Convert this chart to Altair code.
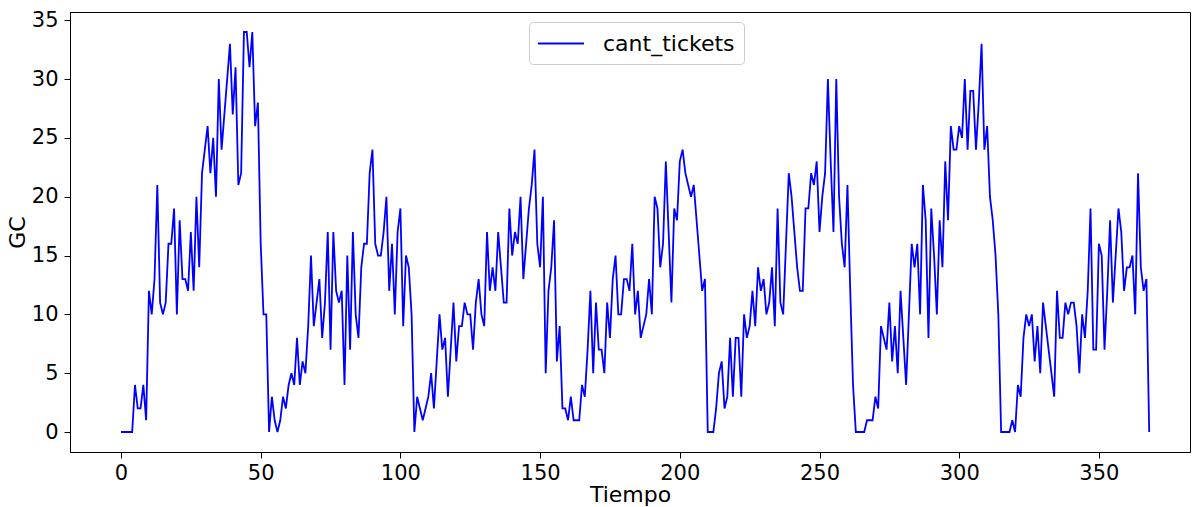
import altair as alt
import pandas as pd

cant_tickets = [
    0, 0, 0, 0, 0, 4, 2, 2, 4, 1,
    12, 10, 13, 21, 11, 10, 11, 16, 16, 19,
    10, 18, 13, 13, 12, 17, 12, 20, 14, 22,
    24, 26, 22, 25, 20, 30, 24, 27, 30, 33, 27,
    31, 21, 22, 34, 34, 31, 34, 26, 28, 16,
    10, 10, 0, 3, 1, 0, 1, 3, 2, 4,
    5, 4, 8, 4, 6, 5, 9, 15, 9, 11,
    13, 8, 11, 17, 7, 17, 12, 11, 12, 4,
    15, 7, 17, 10, 8, 14, 16, 16, 22, 24,
    16, 15, 15, 17, 20, 12, 16, 10, 17, 19,
    9, 15, 14, 10, 0, 3, 2, 1, 2, 3,
    5, 2, 6, 10, 7, 8, 3, 7, 11, 6,
    9, 9, 11, 10, 10, 7, 11, 13, 10, 9,
    17, 12, 14, 12, 17, 14, 11, 11, 19, 15,
    17, 16, 20, 13, 16, 19, 21, 24, 16, 14, 20,
    5, 12, 14, 18, 6, 9, 2, 2, 1, 3,
    1, 1, 1, 4, 3, 7, 12, 5, 11, 7,
    7, 5, 11, 8, 13, 15, 10, 10, 13, 13,
    12, 16, 10, 12, 8, 9, 10, 13, 10, 20,
    19, 14, 16, 23, 17, 11, 19, 18, 23, 24,
    22, 21, 20, 21, 18, 15, 12, 13, 0, 0,
    0, 2, 5, 6, 2, 3, 8, 3, 8, 8,
    3, 10, 8, 9, 12, 9, 14, 12, 13, 10,
    11, 14, 9, 19, 11, 10, 16, 22, 20, 17, 14,
    12, 12, 19, 19, 22, 21, 23, 17, 20, 22,
    30, 23, 17, 30, 20, 16, 14, 21, 12, 4,
    0, 0, 0, 0, 1, 1, 1, 3, 2, 9,
    8, 7, 11, 6, 9, 5, 12, 8, 4, 10,
    16, 14, 16, 10, 21, 18, 8, 19, 15, 10,
    18, 14, 23, 18, 26, 24, 24, 26, 25, 30,
    24, 29, 29, 24, 28, 33, 24, 26, 20, 18,
    15, 10, 0, 0, 0, 0, 1, 0, 4, 3,
    8, 10, 9, 10, 6, 9, 5, 11, 9, 7, 5,
    3, 12, 8, 8, 11, 10, 11, 11, 9, 5,
    10, 8, 12, 19, 7, 7, 16, 15, 7, 12,
    18, 11, 15, 19, 17, 12, 14, 14, 15, 10,
    22, 14, 12, 13, 0,
]
x_ticks = [0, 50, 100, 150, 200, 250, 300, 350]
y_ticks = [0, 5, 10, 15, 20, 25, 30, 35]
series_name = "cant_tickets"

df = pd.DataFrame({
    "Tiempo": list(range(len(cant_tickets))),
    "GC": cant_tickets,
    "serie": [series_name] * len(cant_tickets),
})

FONT = "DejaVu Sans"

chart = alt.Chart(df).mark_line(strokeWidth=1.8, clip=True).encode(
    x=alt.X("Tiempo:Q",
            scale=alt.Scale(domain=[-18.25, 382.6], nice=False, zero=False),
            axis=alt.Axis(values=x_ticks, title="Tiempo", grid=False,
                          labelPadding=4, titlePadding=1, tickSize=6)),
    y=alt.Y("GC:Q",
            scale=alt.Scale(domain=[-1.7, 35.7], nice=False, zero=False),
            axis=alt.Axis(values=y_ticks, title="GC", grid=False,
                          labelPadding=6, titlePadding=2, tickSize=6)),
    color=alt.Color("serie:N",
                    scale=alt.Scale(domain=[series_name], range=["#0000ff"]),
                    legend=alt.Legend(title=None, orient="none",
                                      legendX=459, legendY=10,
                                      symbolType="M-1.087,0L2.913,0", symbolSize=529,
                                      symbolStrokeWidth=1.8,
                                      labelFontSize=22, labelFont=FONT,
                                      labelColor="black", labelOffset=40,
                                      padding=9, cornerRadius=4,
                                      strokeColor="#cccccc", fillColor="white")),
).properties(
    width=1120, height=440,
    padding={"left": 70, "top": 12, "right": 6, "bottom": 55},
    autosize="none",
).configure_axis(
    labelFont=FONT, titleFont=FONT, labelFontSize=21, titleFontSize=22,
    titleFontWeight="normal", labelColor="black", titleColor="black",
    domainColor="black", tickColor="black", domainWidth=1, tickWidth=1,
).configure_view(stroke="black", strokeWidth=1)

chart.save("out.html", embed_options={"renderer": "svg", "actions": False})
